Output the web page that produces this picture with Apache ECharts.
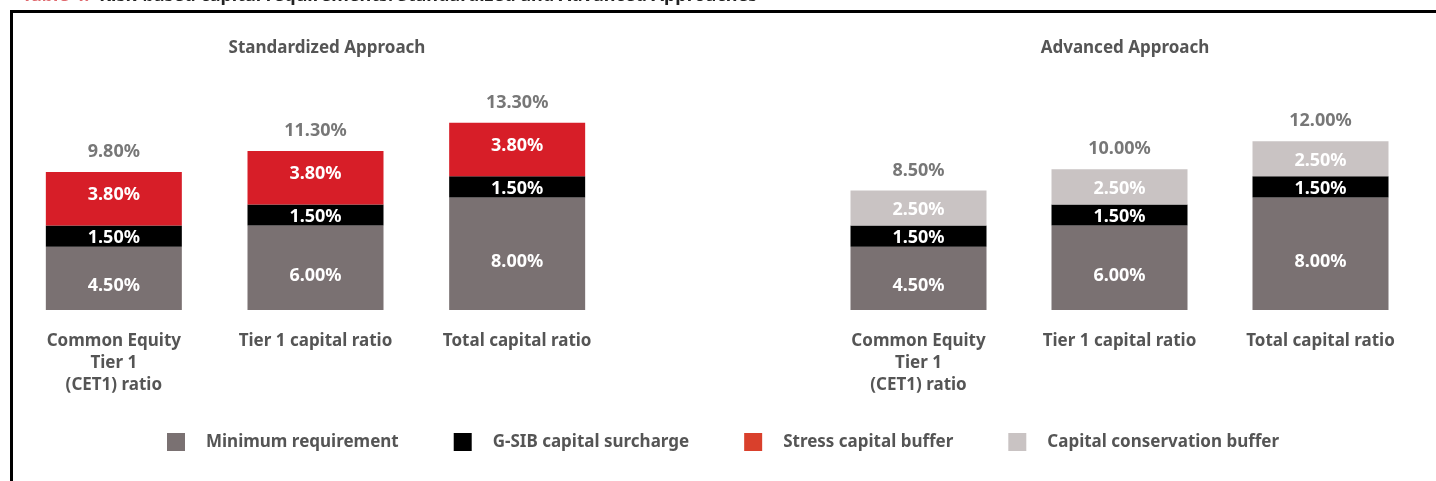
<!DOCTYPE html>
<html>
<head>
<meta charset="utf-8">
<script src="https://cdn.jsdelivr.net/npm/echarts@6/dist/echarts.min.js"></script>
<style>
  html, body { margin: 0; padding: 0; background: #fff; }
  #main { width: 1436px; height: 481px; }
</style>
</head>
<body>
<div id="main"></div>
<script>
// data
var categories = ['Common Equity\nTier 1\n(CET1) ratio', 'Tier 1 capital ratio', 'Total capital ratio'];
var stdMinimum = [4.5, 6.0, 8.0];
var stdGsib = [1.5, 1.5, 1.5];
var stdStress = [3.8, 3.8, 3.8];
var advMinimum = [4.5, 6.0, 8.0];
var advGsib = [1.5, 1.5, 1.5];
var advConservation = [2.5, 2.5, 2.5];
var legendNames = ['Minimum requirement', 'G-SIB capital surcharge', 'Stress capital buffer', 'Capital conservation buffer'];

var C_MIN = '#7a7172', C_GSIB = '#000000', C_STRESS = '#d71e28', C_CONS = '#c9c3c3';
var FONT = 'Noto Sans';
var TXT = '#555555';

function sum3(a, b, c) {
    return a.map(function (v, i) { return +(v + b[i] + c[i]).toFixed(2); });
}
var stdTotal = sum3(stdMinimum, stdGsib, stdStress);
var advTotal = sum3(advMinimum, advGsib, advConservation);

function pct(p) { return Number(p.value).toFixed(2) + '%'; }

function inLabel(dy) {
    return {
        show: true, position: 'inside', offset: [0, dy], formatter: pct,
        color: '#fff', fontFamily: FONT, fontWeight: 'bold', fontSize: 18
    };
}

function barSeries(name, data, color, idx, stack, dy) {
    return {
        name: name, type: 'bar', stack: stack, data: data,
        xAxisIndex: idx, yAxisIndex: idx, barWidth: 136,
        itemStyle: { color: color }, label: inLabel(dy),
        emphasis: { disabled: true }, animation: false
    };
}

function totalSeries(data, idx) {
    return {
        type: 'scatter', data: data, xAxisIndex: idx, yAxisIndex: idx,
        symbolSize: 0, silent: true, animation: false,
        label: {
            show: true, position: 'top', distance: 11, formatter: pct,
            color: TXT, fontFamily: FONT, fontWeight: 'bold', fontSize: 18
        }
    };
}

function xAxis(idx) {
    return {
        type: 'category', gridIndex: idx, data: categories,
        axisLine: { show: false }, axisTick: { show: false },
        axisLabel: {
            margin: 20, color: TXT, fontFamily: FONT, fontWeight: 'bold',
            fontSize: 17, lineHeight: 22, interval: 0
        }
    };
}

function yAxis(idx) {
    return {
        type: 'value', gridIndex: idx, min: 0, max: 14, show: false,
        splitLine: { show: false }
    };
}

var myChart = echarts.init(document.getElementById('main'));

var option = {
    backgroundColor: '#fff',
    animation: false,
    title: [{
        text: 'Standardized Approach', left: 322, top: 35, textAlign: 'center',
        textStyle: { fontFamily: FONT, fontWeight: 'bold', fontSize: 17, color: TXT }
    }, {
        text: 'Advanced Approach', left: 1120, top: 35, textAlign: 'center',
        textStyle: { fontFamily: FONT, fontWeight: 'bold', fontSize: 17, color: TXT }
    }],
    legend: {
        left: 162, top: 428, itemWidth: 18, itemHeight: 18, itemGap: 55,
        icon: 'rect', selectedMode: false,
        textStyle: { fontFamily: FONT, fontWeight: 'bold', fontSize: 17, color: TXT, padding: [0, 0, 0, 16] },
        data: [
            { name: legendNames[0], itemStyle: { color: C_MIN } },
            { name: legendNames[1], itemStyle: { color: C_GSIB } },
            { name: legendNames[2], itemStyle: { color: '#d9402c' } },
            { name: legendNames[3], itemStyle: { color: C_CONS } }
        ]
    },
    grid: [
        { left: 13, width: 605, top: 113, bottom: 171 },
        { left: 818, width: 603, top: 113, bottom: 171 }
    ],
    xAxis: [xAxis(0), xAxis(1)],
    yAxis: [yAxis(0), yAxis(1)],
    series: [
        barSeries(legendNames[0], stdMinimum, C_MIN, 0, 'std', 8),
        barSeries(legendNames[1], stdGsib, C_GSIB, 0, 'std', 2),
        barSeries(legendNames[2], stdStress, C_STRESS, 0, 'std', -4),
        totalSeries(stdTotal, 0),
        barSeries(legendNames[0], advMinimum, C_MIN, 1, 'adv', 8),
        barSeries(legendNames[1], advGsib, C_GSIB, 1, 'adv', 2),
        barSeries(legendNames[3], advConservation, C_CONS, 1, 'adv', 2),
        totalSeries(advTotal, 1)
    ],
    graphic: [
        { type: 'rect', shape: { x: 10, y: 10, width: 1426, height: 3 }, style: { fill: '#000' }, silent: true },
        { type: 'rect', shape: { x: 10, y: 10, width: 3, height: 471 }, style: { fill: '#000' }, silent: true },
        {
            type: 'text', left: 22, top: -13, silent: true,
            style: {
                text: '{a|Table 4:}   {b|Risk-based capital requirements: Standardized and Advanced Approaches}',
                rich: {
                    a: { fontFamily: FONT, fontWeight: 'bold', fontSize: 18, fill: '#e06a6f' },
                    b: { fontFamily: FONT, fontWeight: 'bold', fontSize: 18, fill: '#222' }
                }
            }
        }
    ]
};
myChart.setOption(option);
</script>
</body>
</html>
